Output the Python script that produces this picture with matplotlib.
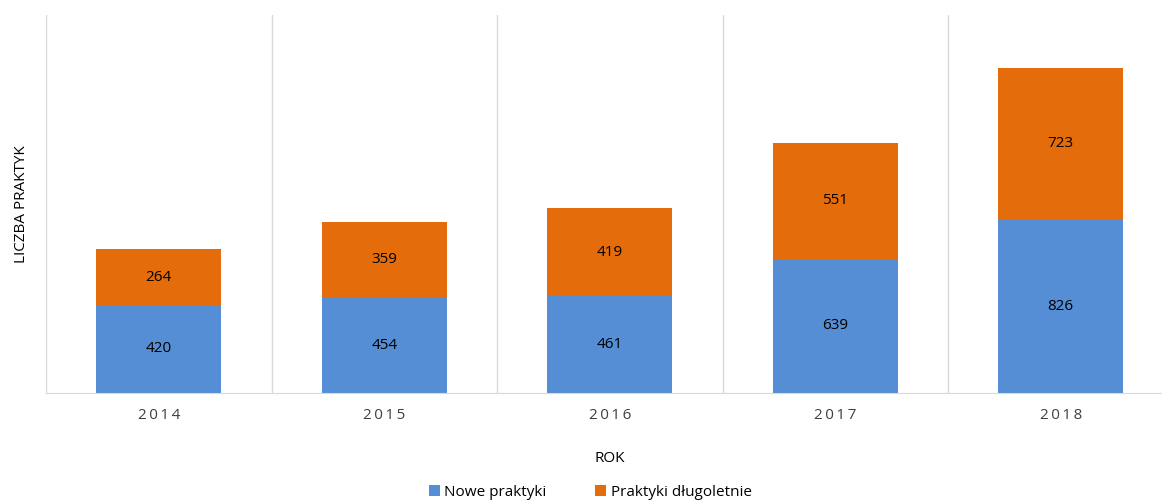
import matplotlib
matplotlib.use("Agg")
import matplotlib.pyplot as plt
import numpy as np

# dane
lata = ['2014', '2015', '2016', '2017', '2018']
nowe = [420, 454, 461, 639, 826]
dlugoletnie = [264, 359, 419, 551, 723]

kolor_nowe = '#558ED5'
kolor_dlugo = '#E46C0A'
szary = '#D9D9D9'

plt.rcParams['font.family'] = ['Open Sans', 'DejaVu Sans']

fig = plt.figure(figsize=(11.62, 5.01), dpi=100)
# obszar wykresu wychodzi troche poza prawa krawedz (jak w oryginale)
ax = fig.add_axes([46 / 1162, 108 / 501, 1127.5 / 1162, 378 / 501])

x = np.arange(len(lata))
b1 = ax.bar(x, nowe, width=0.555, color=kolor_nowe, label='Nowe praktyki')
b2 = ax.bar(x, dlugoletnie, width=0.555, bottom=nowe, color=kolor_dlugo,
            label='Praktyki długoletnie')

for i in range(len(lata)):
    ax.text(x[i], nowe[i] / 2, str(nowe[i]), ha='center', va='center',
            fontsize=11, color='#000000')
    ax.text(x[i], nowe[i] + dlugoletnie[i] / 2, str(dlugoletnie[i]),
            ha='center', va='center', fontsize=11, color='#000000')

ax.set_xlim(-0.5, len(lata) - 0.5)
ax.set_ylim(0, 1800)

# linie pionowe miedzy kategoriami
for g in np.arange(-0.5, len(lata), 1.0):
    ax.axvline(g, color=szary, lw=1, zorder=0)

ax.set_xticks(x)
ax.set_xticklabels(['\u2009'.join(l) for l in lata], fontsize=11, color='#404040')
ax.tick_params(axis='x', length=0, pad=11)
ax.set_yticks([])
for s in ['top', 'right', 'left']:
    ax.spines[s].set_visible(False)
ax.spines['bottom'].set_color(szary)

ax.set_xlabel('ROK', fontsize=11, color='#000000', labelpad=20)
ax.set_ylabel('LICZBA PRAKTYK', fontsize=11, color='#000000', labelpad=12)

fig.legend(handles=[b1, b2], loc='center', bbox_to_anchor=(0.508, 9 / 501),
           ncol=2, frameon=False, fontsize=11, handlelength=0.7,
           handleheight=0.7, columnspacing=3.2, handletextpad=0.3)

fig.savefig('out.png', dpi=100)
